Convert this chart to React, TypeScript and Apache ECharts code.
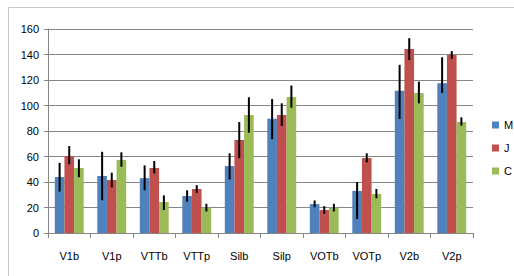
import React, { useEffect, useRef } from "react";
import * as echarts from "echarts";

const categories = ["V1b", "V1p", "VTTb", "VTTp", "Silb", "Silp", "VOTb", "VOTp", "V2b", "V2p"];
const seriesNames = ["M", "J", "C"];
const colors = ["#4F81BD", "#C0504D", "#9BBB59"];

const valuesM = [44, 44.7, 43, 29, 52.5, 89.6, 22.7, 33, 111.5, 117.5];
const valuesJ = [60.4, 41.6, 51, 34.5, 73, 92.5, 18, 58.8, 144.3, 139.6];
const valuesC = [51, 57.3, 24.3, 19.9, 92.5, 106.7, 19.9, 30.6, 109.8, 87];

const errPlusM = [11, 19, 10, 4.5, 10, 15.5, 2.8, 7, 20.4, 20.3];
const errMinusM = [11.5, 19, 9.5, 4.5, 10.5, 16, 2.5, 22, 22, 7.6];
const errPlusJ = [7.8, 5.7, 5.5, 3, 14, 9.2, 3, 3.7, 8.5, 3];
const errMinusJ = [6.5, 5.8, 4.3, 3, 14.4, 8.5, 3, 3.4, 8.6, 3];
const errPlusC = [6.8, 6, 5.2, 3, 14, 9, 3, 3.9, 8.9, 3.7];
const errMinusC = [7.3, 5.3, 6.3, 3, 13.8, 8.4, 3, 3.4, 8.1, 2.8];

const yTicks = { min: 0, max: 160, interval: 20 };

const allValues = [valuesM, valuesJ, valuesC];
const allPlus = [errPlusM, errPlusJ, errPlusC];
const allMinus = [errMinusM, errMinusJ, errMinusC];

const barCategoryGap = 0.32;

export default function App() {
  const ref = useRef<HTMLDivElement>(null);
  useEffect(() => {
    document.body.style.margin = "0";
    const chart = echarts.init(ref.current!, null, { renderer: "svg" });
    const font = "Liberation Sans";
    const barSeries = seriesNames.map((name, i) => ({
      name,
      type: "bar",
      data: allValues[i],
      itemStyle: { color: colors[i] },
      barGap: "0%",
      barCategoryGap: `${barCategoryGap * 100}%`,
      z: 2,
    }));
    const errSeries = seriesNames.map((name, i) => ({
      name: name + "_err",
      type: "custom",
      z: 5,
      silent: true,
      data: categories.map((_, k) => [k, allValues[i][k] - allMinus[i][k], allValues[i][k] + allPlus[i][k]]),
      renderItem: (params: any, api: any) => {
        const idx = api.value(0);
        const lo = api.coord([idx, api.value(1)]);
        const hi = api.coord([idx, api.value(2)]);
        const band = api.size([1, 0])[0];
        const barW = (band * (1 - barCategoryGap)) / 3;
        const x = lo[0] + (i - 1) * barW;
        return {
          type: "line",
          shape: { x1: x, y1: lo[1], x2: x, y2: hi[1] },
          style: { stroke: "#000", lineWidth: 2 },
        };
      },
    }));
    chart.setOption({
      animation: false,
      textStyle: { fontFamily: font },
      graphic: [
        {
          type: "rect",
          shape: { x: 8.5, y: 7.5, width: 700, height: 400 },
          style: { fill: "none", stroke: "#c8c8c8", lineWidth: 1 },
          silent: true,
        },
      ],
      grid: { left: 48, right: 41, top: 29, bottom: 43, containLabel: false },
      legend: {
        orient: "vertical",
        left: 492,
        top: 118,
        padding: 0,
        itemWidth: 7,
        itemHeight: 7,
        itemGap: 9,
        data: seriesNames.map((n) => ({ name: n, icon: "rect" })),
        textStyle: { fontFamily: font, fontSize: 11, color: "#000", lineHeight: 14 },
      },
      xAxis: {
        type: "category",
        data: categories,
        axisLine: { lineStyle: { color: "#868686", width: 1 } },
        axisTick: { show: true, length: 5, lineStyle: { color: "#868686" } },
        axisLabel: { fontFamily: font, fontSize: 11, color: "#000", margin: 17 },
      },
      yAxis: {
        type: "value",
        min: yTicks.min,
        max: yTicks.max,
        interval: yTicks.interval,
        axisLine: { show: true, lineStyle: { color: "#868686", width: 1 } },
        axisTick: { show: true, length: 4, lineStyle: { color: "#868686" } },
        axisLabel: { fontFamily: font, fontSize: 11, color: "#000", margin: 9 },
        splitLine: { lineStyle: { color: "#868686", width: 1 } },
      },
      series: [...barSeries, ...errSeries],
    });
    return () => chart.dispose();
  }, []);
  return <div ref={ref} style={{ width: 514, height: 276 }} />;
}
